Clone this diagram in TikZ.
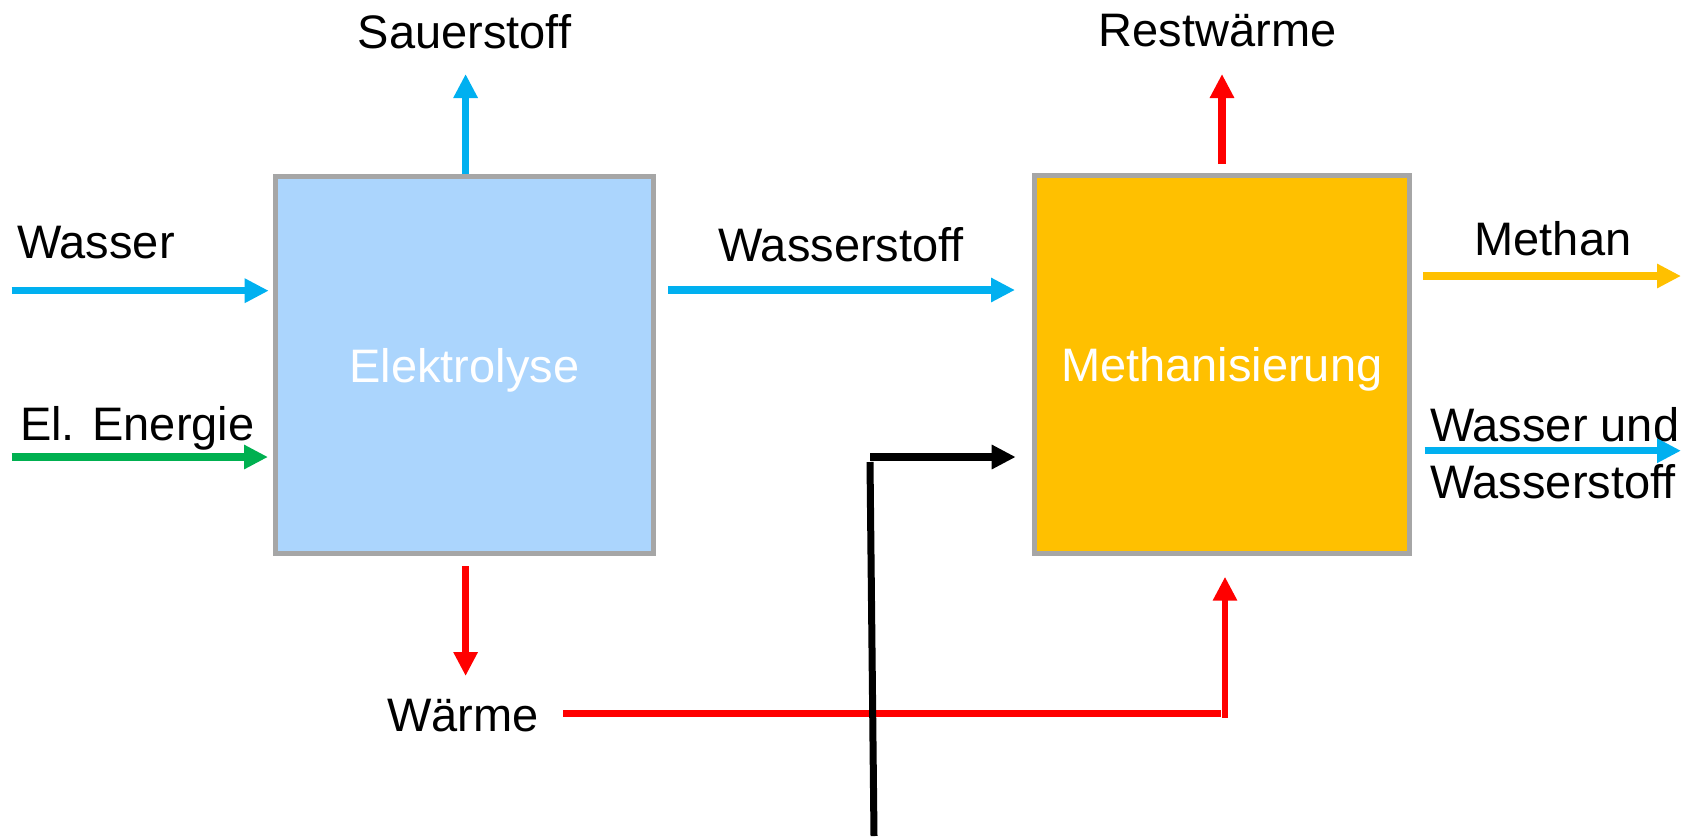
\documentclass[tikz,border=0pt]{standalone}
\usepackage{fontspec}
\setmainfont{Liberation Sans}
\usetikzlibrary{arrows.meta}
\definecolor{cblue}{HTML}{00B0F0}
\definecolor{cgreen}{HTML}{00B050}
\definecolor{cred}{HTML}{FF0000}
\definecolor{corange}{HTML}{FFC000}
\definecolor{clight}{HTML}{ABD5FD}
\definecolor{cgray}{HTML}{A6A6A6}
\tikzset{
  flow/.style={line width=7.5pt,-{Triangle[length=24pt,width=23pt]}},
  plain/.style={line width=7.5pt},
  lbl/.style={inner sep=0pt,anchor=base,font=\fontsize{47}{57}\selectfont},
  lblw/.style={lbl,anchor=base west},
  procbox/.style={draw=cgray,line width=5pt,text=white,inner sep=0pt,text depth=0pt,font=\fontsize{47}{57}\selectfont}
}
\begin{document}
\begin{tikzpicture}[x=1pt,y=-1pt]
\useasboundingbox (0,0) rectangle (1696,836);
% boxes
\node[procbox,fill=clight,minimum width=377.5pt,minimum height=377pt] (elek) at (464.25,365) {Elektrolyse};
\node[procbox,fill=corange,minimum width=374.5pt,minimum height=378pt] (meth) at (1221.75,364.5) {Methanisierung};
% labels
\node[lbl] (sauer) at (464.5,48.3) {Sauerstoff};
\node[lbl] (rest) at (1217.5,46.7) {Restwärme};
\node[lblw] (wasser) at (17,258) {Wasser};
\node[lblw] (energie) at (20,440.7) {El. Energie};
\node[lbl] (wstoff) at (841,261.7) {Wasserstoff};
\node[lbl] (methan) at (1553,255) {Methan};
\node[lblw] (wund) at (1430,441) {Wasser und};
\node[lblw] (wund2) at (1430,498) {Wasserstoff};
\node[lbl] (waerme) at (463,731) {Wärme};
% coordinates
\coordinate (o2top) at (465.6,74);
\coordinate (o2bot) at (465.6,174);
\coordinate (wa1) at (11.6,290.7);
\coordinate (wa2) at (268.7,290.7);
\coordinate (en1) at (11.5,457);
\coordinate (en2) at (268,457);
\coordinate (h1) at (668,290);
\coordinate (h2) at (1015,290);
\coordinate (rw1) at (1222,164);
\coordinate (rw2) at (1222,74);
\coordinate (me1) at (1423,276);
\coordinate (me2) at (1681,276);
\coordinate (wu1) at (1424.7,450.7);
\coordinate (wu2) at (1681,450.7);
\coordinate (wd1) at (465.6,566);
\coordinate (wd2) at (465.6,676);
\coordinate (wl1) at (563,713.7);
\coordinate (wl2) at (1221,713.7);
\coordinate (wu3) at (1225,717.5);
\coordinate (wu4) at (1225,576.7);
\coordinate (bk1) at (874,836);
\coordinate (bk2) at (870,462);
\coordinate (bk3) at (870,457);
\coordinate (bk4) at (1015.7,457);
% arrows
\draw[flow,cblue] (o2bot) -- (o2top);
\draw[flow,cblue] (wa1) -- (wa2);
\draw[flow,cgreen] (en1) -- (en2);
\draw[flow,cblue] (h1) -- (h2);
\draw[flow,cred] (rw1) -- (rw2);
\draw[flow,corange] (me1) -- (me2);
\draw[flow,cblue] (wu1) -- (wu2);
\draw[flow,cred] (wd1) -- (wd2);
\draw[plain,cred] (wl1) -- (wl2);
\draw[flow,cred,line width=6pt] (wu3) -- (wu4);
\draw[plain,black,line width=7pt] (bk1) -- (bk2);
\draw[flow,black] (bk3) -- (bk4);
\end{tikzpicture}
\end{document}
